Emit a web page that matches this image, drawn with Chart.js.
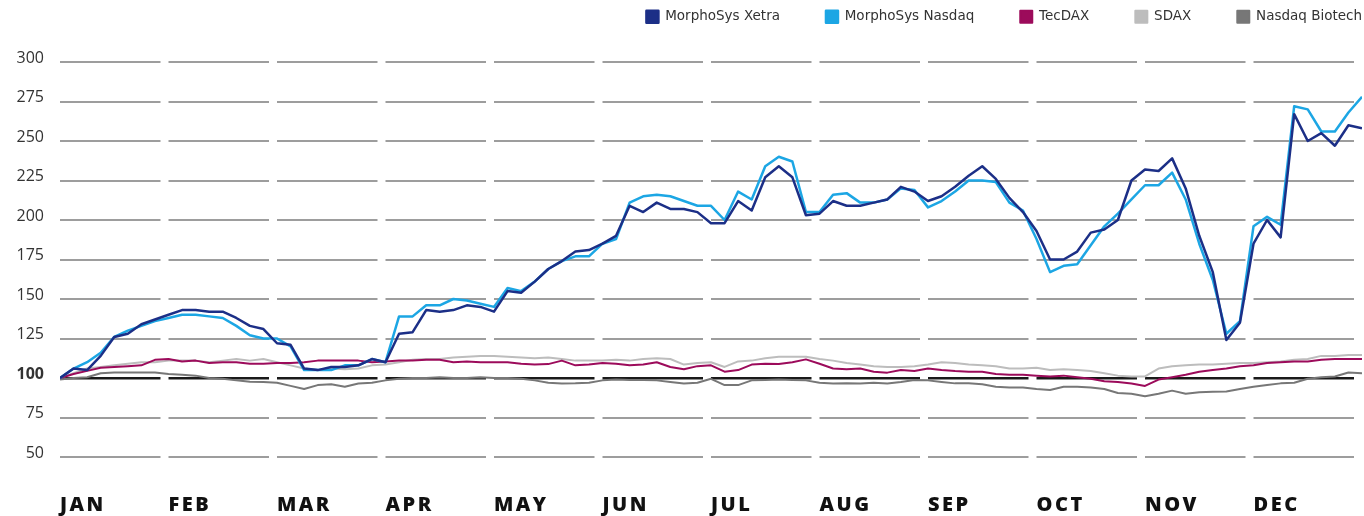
<!DOCTYPE html>
<html>
<head>
<meta charset="utf-8">
<script src="https://cdn.jsdelivr.net/npm/chart.js@4"></script>
<style>
  body { margin: 0; background: #fff; }
  #wrap { width: 1364px; height: 516px; }
</style>
</head>
<body>
<div id="wrap"><canvas id="perfChart"></canvas></div>
<script>
"use strict";

// Month labels along the x axis (8 samples per month, index 0..96)
const months = ["JAN", "FEB", "MAR", "APR", "MAY", "JUN", "JUL", "AUG", "SEP", "OCT", "NOV", "DEC"];
const yTicks = [50, 75, 100, 125, 150, 175, 200, 225, 250, 275, 300];

// Indexed performance (start = 100)
const morphoXetra = [
  100, 106, 105, 114, 126, 128, 134, 137,
  140, 143, 143, 142, 142, 138, 133, 131,
  122, 121, 106, 105, 107, 107, 108, 112,
  110, 128, 129, 143, 142, 143, 146, 145,
  142, 155, 154, 161, 169, 174, 180, 181,
  185, 190, 209, 205, 211, 207, 207, 205,
  198, 198, 212, 206, 227, 234, 227, 203,
  204, 212, 209, 209, 211, 213, 221, 218,
  212, 215, 221, 228, 234, 226, 214, 205,
  193, 175, 175, 180, 192, 194, 200, 225,
  232, 231, 239, 220, 190, 167, 124, 135,
  185, 200, 189, 267, 250, 255, 247, 260,
  258
];
const morphoNasdaq = [
  100, 106, 110, 116, 126, 130, 133, 136,
  138, 140, 140, 139, 138, 133, 127, 125,
  125, 120, 105, 105, 105, 108, 108, 112,
  110, 139, 139, 146, 146, 150, 149, 147,
  145, 157, 155, 161, 169, 174, 177, 177,
  185, 188, 211, 215, 216, 215, 212, 209,
  209, 200, 218, 213, 234, 240, 237, 205,
  205, 216, 217, 211, 211, 213, 220, 219,
  208, 212, 218, 225, 225, 224, 211, 206,
  188, 167, 171, 172, 184, 196, 204, 213,
  222, 222, 230, 213, 185, 162, 128, 136,
  196, 202, 197, 272, 270, 256, 256, 268,
  278
];
const tecDax = [
  100, 102.5, 104.5, 106.5, 107, 107.5, 108, 111.5,
  112, 110.5, 111, 109.5, 110, 110, 109, 109,
  109.5, 109.5, 110, 111, 111, 111, 111, 110,
  110.5, 111, 111, 111.5, 111.5, 110, 110.5, 110,
  110, 110, 109, 108.5, 108.8, 111, 108, 108.5,
  109.5, 109, 108, 108.5, 110, 107, 105.5, 107.5,
  108, 104, 105, 108.5, 109, 108.8, 110, 111.8,
  109, 106, 105.5, 106, 104, 103.4, 105, 104.5,
  106, 105, 104.4, 104, 104, 102.5, 102, 102,
  101.5, 101, 101.5, 100.5, 99.5, 98, 97.5, 96.5,
  95, 99, 100.5, 102, 104, 105, 106, 107.5,
  108, 109.5, 110, 110.5, 110.5, 111.5, 112, 112,
  112
];
const sdax = [
  100, 103, 106, 107, 108, 109, 110, 110,
  111, 111, 111, 110, 111, 112, 111, 112,
  110, 108, 106, 105, 106, 105.5, 106, 108,
  108.5, 110, 111.5, 112, 112, 113, 113.5, 114,
  114, 113.5, 113, 112.5, 113, 112, 111, 111,
  111, 111.5, 111, 112, 112.5, 112, 108.5, 109.5,
  110, 107, 110.5, 111, 112.5, 113.5, 113.5, 113.5,
  112, 111, 109.5, 108.5, 107.5, 107, 107, 107.5,
  108.5, 110, 109.5, 108.5, 108, 107.5, 106, 106,
  106.5, 105, 105.5, 105, 104.5, 103, 101.5, 101,
  101, 106, 107.5, 108, 108.5, 108.5, 109, 109.5,
  109.5, 110, 110.5, 111.5, 112, 114, 114, 114.5,
  114.5
];
const nasdaqBiotech = [
  99, 100, 100.5, 103, 103.5, 103.5, 103.5, 103.5,
  102.5, 102, 101.5, 100, 99.5, 98.5, 97.7, 97.5,
  97, 95, 93, 95.5, 96, 94.5, 96.5, 97,
  98.5, 99.5, 100, 100, 100.5, 100, 100, 100.5,
  100, 100, 99.5, 98.5, 97, 96.5, 96.6, 97,
  98.5, 99, 98.7, 98.7, 98.5, 97.5, 96.5, 97,
  99.5, 95.5, 95.5, 98.5, 98.7, 99, 98.7, 98.5,
  97, 96.5, 96.6, 96.5, 97, 96.5, 97.5, 98.7,
  98.5, 97.5, 96.6, 96.6, 96, 94.5, 94, 94,
  93, 92.4, 94.5, 94.5, 94, 93, 90.5, 90,
  88.5, 90, 92, 90, 91, 91.3, 91.5, 93,
  94.5, 95.5, 96.6, 97, 99.5, 100.5, 101, 103.5,
  103
];

const SAMPLES_PER_MONTH = 8;
const toPoints = arr => arr.map((v, i) => ({ x: i / SAMPLES_PER_MONTH, y: v }));

const FONT = "'Open Sans', 'DejaVu Sans', sans-serif";

function makeSet(label, values, color, width) {
  return {
    label: label,
    data: toPoints(values),
    borderColor: color,
    backgroundColor: color,
    borderWidth: width,
    pointRadius: 0,
    tension: 0,
    borderJoinStyle: "round"
  };
}

// Legend: keep the wide item spacing but pull it up to the top edge
const legendPlacement = {
  id: "legendPlacement",
  beforeInit(chart) {
    const fit = chart.legend.fit;
    chart.legend.fit = function() {
      fit.call(this);
      this.height = 52;
    };
  },
  afterLayout(chart) {
    chart.legend.top -= 46;
    chart.legend.right += 46;
  }
};

// Month labels are letter-spaced
const spacedMonths = {
  id: "spacedMonths",
  beforeDraw(chart) {
    const scale = chart.scales.x;
    if (scale._spaced) return;
    const drawLabels = scale.drawLabels.bind(scale);
    scale.drawLabels = function(area) {
      const c = chart.ctx;
      c.save();
      c.letterSpacing = "2.5px";
      drawLabels(area);
      c.restore();
    };
    scale._spaced = true;
  }
};

const ctx = document.getElementById("perfChart");

new Chart(ctx, {
  type: "line",
  data: {
    datasets: [
      makeSet("MorphoSys Xetra", morphoXetra, "#1c2f87", 2.5),
      makeSet("MorphoSys Nasdaq", morphoNasdaq, "#1ca6e4", 2.5),
      makeSet("TecDAX", tecDax, "#9c0b5b", 2),
      makeSet("SDAX", sdax, "#bdbdbd", 2),
      makeSet("Nasdaq Biotech", nasdaqBiotech, "#777777", 2)
    ]
  },
  options: {
    responsive: true,
    maintainAspectRatio: false,
    animation: false,
    layout: { padding: { top: 10, right: 2, left: 0, bottom: 0 } },
    plugins: {
      legend: {
        position: "top",
        align: "end",
        labels: {
          boxWidth: 12,
          boxHeight: 12,
          padding: 46,
          color: "#333",
          font: { family: "'DejaVu Sans', sans-serif", size: 13.5 }
        }
      },
      tooltip: { enabled: false }
    },
    scales: {
      x: {
        type: "linear",
        min: 0,
        max: 12,
        afterFit: s => { s.height = 59; s.paddingLeft = 0; s.paddingRight = 0; },
        grid: { display: false, drawTicks: false },
        border: { display: false },
        ticks: {
          stepSize: 1,
          autoSkip: false,
          maxRotation: 0,
          minRotation: 0,
          align: "start",
          padding: 36,
          color: "#111",
          font: { family: FONT, size: 20, weight: "800" },
          callback: v => months[v] || ""
        }
      },
      y: {
        min: 50,
        max: 300,
        afterFit: s => { s.width = 60; },
        afterBuildTicks: s => { s.ticks = yTicks.map(v => ({ value: v })); },
        grid: {
          drawTicks: false,
          color: c => c.tick && c.tick.value === 100 ? "#1a1a1a" : "#9d9d9d",
          lineWidth: c => c.tick && c.tick.value === 100 ? 2.5 : 2
        },
        border: { display: false, dash: [100.5, 8] },
        ticks: {
          padding: 16,
          labelOffset: -4,
          color: "#333",
          font: c => ({
            family: FONT,
            size: 16,
            weight: c.tick && c.tick.value === 100 ? "bold" : "normal"
          })
        }
      }
    }
  },
  plugins: [legendPlacement, spacedMonths]
});
</script>
</body>
</html>
